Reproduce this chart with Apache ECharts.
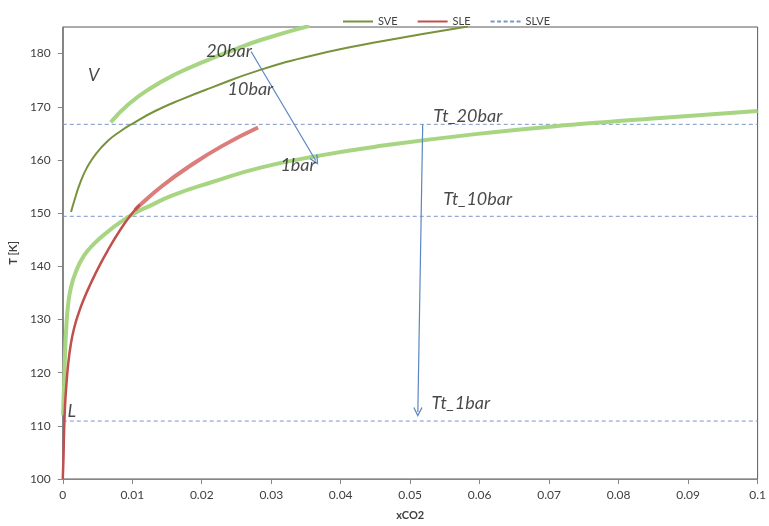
<!DOCTYPE html>
<html><head><meta charset="utf-8">
<script src="https://cdn.jsdelivr.net/npm/echarts@6/dist/echarts.min.js"></script>
<style>html,body{margin:0;padding:0;background:#fff}#c{width:769px;height:526px}</style>
</head><body><div id="c"></div>
<script>
// SVE 10 bar (legend "SVE")
const sve10 = [[0.00119,150.2],[0.0017,152.5],[0.0025,155.7],[0.0035,158.6],[0.0048,161.2],[0.0065,163.6],[0.0083,165.4],[0.0100,166.8],[0.0133,169.2],[0.0171,171.4],[0.0214,173.6],[0.0281,176.8],[0.0361,179.7],[0.0459,182.3],[0.0583,185.1]];
// SVE 20 bar
const sve20 = [[0.0069,167.1],[0.0095,170.5],[0.0124,173.3],[0.0162,176.1],[0.0205,178.6],[0.0248,180.8],[0.0286,182.6],[0.0355,185.2]];
// SVE 1 bar
const sve1 = [[0.00005,112],[0.0001,114.5],[0.00019,117.7],[0.00033,123.9],[0.00052,128.9],[0.00076,132.7],[0.00114,135.8],[0.00186,138.9],[0.00305,142],[0.00448,144.2],[0.00638,146.4],[0.00829,148.3],[0.0102,149.9],[0.0126,151.4],[0.0157,153.3],[0.0214,155.8],[0.0286,158.6],[0.0369,160.8],[0.045,162.5],[0.0597,164.9],[0.074,166.7],[0.087,168],[0.1,169.2]];
// SLE
const sleLow = [[0,100],[0.0001,103.9],[0.00019,108.9],[0.00033,113.9],[0.00052,117.7],[0.00076,121.4],[0.00114,125.2],[0.00162,128.3],[0.00233,131.4],[0.00305,133.9],[0.004,136.7],[0.00519,139.9],[0.00662,143.3],[0.00805,146.4],[0.0097,149.5],[0.0111,151.6]];
const sleHigh = [[0.0104,150.6],[0.011,151.4],[0.0143,155.1],[0.0181,158.7],[0.0229,162.6],[0.0281,166.1]];
// SLVE triple-point temperatures
const slveT = [166.7, 149.4, 110.9];
const slveX = [0, 0.1];
// annotations [text, x, T]
const annoText = ['V','20bar','10bar','1bar','Tt_20bar','Tt_10bar','Tt_1bar','L'];
const annoX = [0.00443,0.02393,0.027,0.03386,0.05829,0.05971,0.05729,0.00129];
const annoT = [175.9,180.36,173.3,159.0,168.26,152.7,114.3,112.7];
// arrows [from, to]
const arrowFrom = [[0.0271,180.4],[0.0518,166.7]];
const arrowTo = [[0.0364,159.9],[0.0511,112.6]];
// axis ticks
const yTicks = [100,110,120,130,140,150,160,170,180];

const chart = echarts.init(document.getElementById('c'));
const FONT = 'Lato, "Liberation Sans", sans-serif';
const line = (name, data, color, width, z) => ({
  type:'line', name, data, symbol:'none', showSymbol:false, smooth:0.5,
  lineStyle:{color, width}, itemStyle:{color}, z, silent:true
});
const series = [];
slveT.forEach(t => series.push({
  type:'line', name:'SLVE', data: slveX.map(x => [x, t]), symbol:'none', silent:true,
  lineStyle:{color:'#7B96C6', width:1, type:[4,3]}, itemStyle:{color:'#7B96C6'}, z:1
}));
series.push(line('SVE1', sve1, '#A8D582', 4, 2));
series.push(line('SVE20', sve20, '#A8D582', 4, 2));
series.push(line('SVE', sve10, '#77933C', 2, 3));
series.push(line('SLE2', sleHigh, '#DB7D7B', 4, 3));
series.push(line('SLE', sleLow, '#C0504D', 2.5, 4));
series.push({
  type:'scatter', name:'anno', silent:true, symbolSize:1, itemStyle:{color:'rgba(0,0,0,0)'}, z:10,
  data: annoText.map((t,i) => ({name:t, value:[annoX[i], annoT[i]]})),
  label:{show:true, position:'inside', formatter:p=>p.name, color:'#1a1a1a', fontSize:18, fontStyle:'italic', fontFamily:FONT},
  labelLayout:{hideOverlap:false},
  markLine:{
    silent:true, symbol:['none','path://M5 0L10 9L9 10L5 2.8L1 10L0 9Z'], symbolSize:[9,10],
    label:{show:false}, lineStyle:{color:'#5B86BF', width:1.2, type:'solid'},
    emphasis:{disabled:true},
    data: arrowFrom.map((f,i) => [{coord:f},{coord:arrowTo[i]}])
  }
});

const solidIcon = 'path://M0 0H30V2H0Z';
const dashIcon = 'path://M0 0H4V2H0ZM6.5 0H10.5V2H6.5ZM13 0H17V2H13ZM19.5 0H23.5V2H19.5ZM26 0H30V2H26Z';
chart.setOption({
  animation:false,
  backgroundColor:'#fff',
  textStyle:{fontFamily:FONT},
  legend:{
    data:[{name:'SVE', icon:solidIcon},{name:'SLE', icon:solidIcon},{name:'SLVE', icon:dashIcon}],
    left:338, top:11, itemWidth:30, itemHeight:2, itemGap:20,
    textStyle:{fontSize:11, color:'#404040', fontFamily:FONT}
  },
  grid:{left:62, right:7, top:27, bottom:45, show:true, borderColor:'#595959', borderWidth:1},
  xAxis:{
    type:'value', min:0, max:0.1, interval:0.01,
    name:'xCO2', nameLocation:'middle', nameGap:31,
    nameTextStyle:{fontSize:11, fontWeight:'bold', color:'#404040', fontFamily:FONT},
    axisLine:{lineStyle:{color:'#868686'}},
    axisTick:{length:5, lineStyle:{color:'#868686'}},
    axisLabel:{margin:10, fontSize:12, color:'#404040', formatter:v=>String(+v.toFixed(3))},
    splitLine:{show:false}
  },
  yAxis:{
    type:'value', min:100, max:185, interval:10,
    name:'T [K]', nameLocation:'middle', nameGap:38,
    nameTextStyle:{fontSize:11, fontWeight:'bold', color:'#404040', fontFamily:FONT},
    axisLine:{show:true, lineStyle:{color:'#868686'}},
    axisTick:{show:true, length:5, lineStyle:{color:'#868686'}, customValues:yTicks},
    axisLabel:{margin:12, fontSize:12, color:'#404040', customValues:yTicks},
    splitLine:{show:false}
  },
  series
});
</script></body></html>
